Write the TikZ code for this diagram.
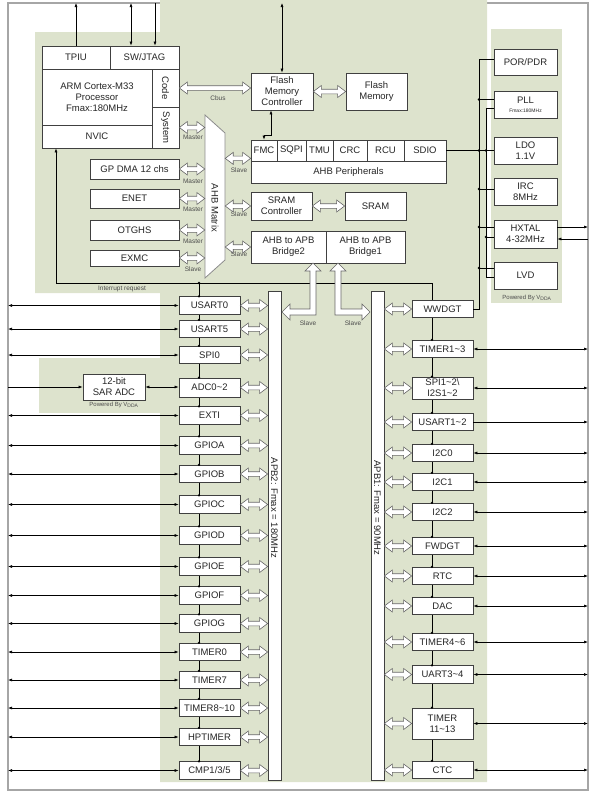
\documentclass[tikz,border=0pt]{standalone}
\usepackage{fontspec}
\setmainfont{Liberation Sans}
\usetikzlibrary{arrows.meta, calc}

\definecolor{domaingreen}{RGB}{221,227,205}
\definecolor{boxline}{RGB}{64,64,64}

\begin{document}
\begin{tikzpicture}[
        x=1pt, y=-1pt,
        block/.style={rectangle, draw=boxline, fill=white, line width=0.7pt, inner sep=0pt, align=center, text=black!85, font=\fontsize{9.5}{11}\selectfont},
        periph/.style={block, minimum width=61, minimum height=17.5},
        pwrbox/.style={block, minimum width=63, minimum height=27},
        vtext/.style={inner sep=0pt, rotate=-90, text=black!85, font=\fontsize{9.5}{11}\selectfont},
        smalltag/.style={inner sep=0pt, text=black!70, font=\fontsize{6.5}{7}\selectfont},
        wire/.style={line width=0.6pt},
        io/.style={wire, {Latex[length=4pt,width=3pt]}-{Latex[length=4pt,width=3pt]}},
        outarrow/.style={wire, -{Latex[length=4pt,width=3pt]}},
        hollowline/.style={draw=black!60, fill=white, line width=0.6pt},
        hollow/.style={hollowline, to path={let \p1=(\tikztostart), \p2=(\tikztotarget) in (\x1,\y1) -- (\x1+8pt,\y1+6pt) -- (\x1+8pt,\y1+2.3pt) -- (\x2-8pt,\y1+2.3pt) -- (\x2-8pt,\y1+6pt) -- (\x2,\y1) -- (\x2-8pt,\y1-6pt) -- (\x2-8pt,\y1-2.3pt) -- (\x1+8pt,\y1-2.3pt) -- (\x1+8pt,\y1-6pt) -- cycle}},
    ]
        \useasboundingbox (0,0) rectangle (594,796);

        % frame and power domains
        \draw[black!35, line width=1.3pt] (8,3) rectangle (588,790);
        \fill[domaingreen] (35,32) -- (160,32) -- (160,0) -- (487,0) -- (487,782) -- (160,782) -- (160,293) -- (35,293) -- cycle;
        \fill[domaingreen] (39,358) rectangle (160,413);
        \fill[domaingreen] (491,29) rectangle (562,303);

        \coordinate (edge_l) at (8,0);
        \coordinate (edge_r) at (588,0);
        \coordinate (edge_t) at (0,3);
        \coordinate (irq_l) at (56,283);
        \coordinate (irq_m) at (199,283);
        \coordinate (irq_r) at (432,283);
        \coordinate (apb2_end) at (199,762);
        \coordinate (apb1_end) at (432,761);
        \coordinate (pwr_a) at (479,0);
        \coordinate (pwr_b) at (486,0);

        \draw[wire] (irq_m) -- (apb2_end);
        \draw[wire] (irq_r) -- (apb1_end);

        % core
        \node[block, minimum width=68, minimum height=23] (tpiu) at (76,57.5) {TPIU};
        \node[block, minimum width=69, minimum height=23] (swjtag) at (144.5,57.5) {SW/JTAG};
        \node[block, minimum width=110, minimum height=56] (cortex) at (97,97) {ARM Cortex-M33\\Processor\\Fmax:180MHz};
        \node[block, minimum width=110, minimum height=23] (nvic) at (97,136.5) {NVIC};
        \node[block, rotate=-90, minimum width=38, minimum height=27] (code) at (165.5,88) {Code};
        \node[block, rotate=-90, minimum width=41, minimum height=27] (system) at (165.5,127.5) {System};

        \node[block, minimum width=62, minimum height=37] (flashctrl) at (282,91.5) {Flash\\Memory\\Controller};
        \node[block, minimum width=61, minimum height=37] (flash) at (376.5,91.5) {Flash\\Memory};

        \node[block, minimum width=89, minimum height=20] (gpdma) at (134.5,169) {GP DMA 12 chs};
        \node[block, minimum width=89, minimum height=19] (enet) at (134.5,198.5) {ENET};
        \node[block, minimum width=89, minimum height=20] (otghs) at (134.5,230) {OTGHS};
        \node[block, minimum width=89, minimum height=16] (exmc) at (134.5,258) {EXMC};

        \draw[draw=black!45, fill=white, line width=0.8pt] (205,115) -- (225,133) -- (225,260) -- (205,278) -- cycle;
        \node[vtext, minimum height=20] (mtx) at (215,208) {AHB Matrix};

        \node[block, minimum width=26, minimum height=21] (fmc) at (264,150.5) {FMC};
        \node[block, minimum width=29, minimum height=21] (sqpi) at (291.5,150.5) {SQPI};
        \node[block, minimum width=27, minimum height=21] (tmu) at (319.5,150.5) {TMU};
        \node[block, minimum width=34, minimum height=21] (crc) at (350,150.5) {CRC};
        \node[block, minimum width=37, minimum height=21] (rcu) at (385.5,150.5) {RCU};
        \node[block, minimum width=42, minimum height=21] (sdio) at (425,150.5) {SDIO};
        \node[block, minimum width=195, minimum height=22] (ahbp) at (348.5,172) {AHB Peripherals};

        \node[block, minimum width=61, minimum height=28] (sramctrl) at (281.5,206) {SRAM\\Controller};
        \node[block, minimum width=61, minimum height=28] (sram) at (375.5,206) {SRAM};
        \node[block, minimum width=75, minimum height=32] (bridge2) at (288.5,247) {AHB to APB\\Bridge2};
        \node[block, minimum width=79, minimum height=32] (bridge1) at (365.5,247) {AHB to APB\\Bridge1};

        % power
        \node[pwrbox, minimum height=26] (por) at (525.5,62) {POR/PDR};
        \node[pwrbox] (pll) at (525.5,104.5) {PLL\\[-2pt]{\fontsize{5}{6}\selectfont Fmax:180MHz}};
        \node[pwrbox] (ldo) at (525.5,150.5) {LDO\\1.1V};
        \node[pwrbox] (irc) at (525.5,191.5) {IRC\\8MHz};
        \node[pwrbox, minimum height=28] (hxtal) at (525.5,234) {HXTAL\\4-32MHz};
        \node[pwrbox] (lvd) at (525.5,275.5) {LVD};

        % APB buses
        \node[block, minimum width=13, minimum height=489] (apb2) at (274.5,535.5) {};
        \node[vtext] (apb2_txt) at (274.5,508) {APB2: Fmax = 180MHz};
        \node[block, minimum width=13, minimum height=489] (apb1) at (377.5,535.5) {};
        \node[vtext] (apb1_txt) at (377.5,508) {APB1: Fmax = 90MHz};

        \node[block, minimum width=62, minimum height=26] (sar) at (114,387) {12-bit\\SAR ADC};

        \node[periph] (usart0) at (209.5,305.5) {USART0};
        \node[periph] (usart5) at (209.5,329) {USART5};
        \node[periph] (spi0) at (209.5,355) {SPI0};
        \node[periph, minimum height=19] (adc) at (209.5,387.5) {ADC0\textasciitilde 2};
        \node[periph] (exti) at (209.5,415.5) {EXTI};
        \node[periph] (gpioa) at (209.5,445.5) {GPIOA};
        \node[periph] (gpiob) at (209.5,474) {GPIOB};
        \node[periph] (gpioc) at (209.5,504.5) {GPIOC};
        \node[periph] (gpiod) at (209.5,535.5) {GPIOD};
        \node[periph] (gpioe) at (209.5,566.5) {GPIOE};
        \node[periph] (gpiof) at (209.5,595.5) {GPIOF};
        \node[periph] (gpiog) at (209.5,623.5) {GPIOG};
        \node[periph] (timer0) at (209.5,652) {TIMER0};
        \node[periph] (timer7) at (209.5,680) {TIMER7};
        \node[periph] (timer8) at (209.5,708) {TIMER8\textasciitilde 10};
        \node[periph] (hptimer) at (209.5,737) {HPTIMER};
        \node[periph] (cmp) at (209.5,770.5) {CMP1/3/5};

        \node[periph] (wwdgt) at (442.5,309) {WWDGT};
        \node[periph] (timer1) at (442.5,349) {TIMER1\textasciitilde 3};
        \node[periph, minimum height=22] (spi1) at (442.5,388) {SPI1\textasciitilde 2\textbackslash\\I2S1\textasciitilde 2};
        \node[periph] (usart1) at (442.5,422) {USART1\textasciitilde 2};
        \node[periph] (i2c0) at (442.5,453) {I2C0};
        \node[periph] (i2c1) at (442.5,482) {I2C1};
        \node[periph] (i2c2) at (442.5,512) {I2C2};
        \node[periph] (fwdgt) at (442.5,546) {FWDGT};
        \node[periph] (rtc) at (442.5,576) {RTC};
        \node[periph] (dac) at (442.5,606) {DAC};
        \node[periph] (timer4) at (442.5,642) {TIMER4\textasciitilde 6};
        \node[periph] (uart3) at (442.5,674.5) {UART3\textasciitilde 4};
        \node[periph, minimum height=31] (timer11) at (442.5,723.5) {TIMER\\11\textasciitilde 13};
        \node[periph] (ctc) at (442.5,770) {CTC};

        % labels
        \node[smalltag] (cbus_lbl) at (218,98) {Cbus};
        \node[smalltag] (m_sys) at (193,137) {Master};
        \node[smalltag] (m_dma) at (193,181) {Master};
        \node[smalltag] (m_enet) at (193,209) {Master};
        \node[smalltag] (m_otg) at (193,241) {Master};
        \node[smalltag] (s_exmc) at (193,269) {Slave};
        \node[smalltag] (s_ahbp) at (239,170) {Slave};
        \node[smalltag] (s_sram) at (239,214) {Slave};
        \node[smalltag] (s_bridge) at (239,254) {Slave};
        \node[smalltag] (s_apb2) at (308,323) {Slave};
        \node[smalltag] (s_apb1) at (353,323) {Slave};
        \node[smalltag] (irq_lbl) at (122,289) {Interrupt request};
        \node[smalltag, font=\fontsize{6}{7}\selectfont] (vdda_adc) at (114,405) {Powered By V\textsubscript{DDA}};
        \node[smalltag, font=\fontsize{6}{7}\selectfont] (vdda_pwr) at (527,298) {Powered By V\textsubscript{DDA}};

        % top pins
        \draw[outarrow] (tpiu.north) -- (tpiu.north |- edge_t);
        \draw[io] ($(swjtag.north)+(-13.5,0)$) -- ($(swjtag.north |- edge_t)+(-13.5,0)$);
        \draw[outarrow] ($(swjtag.north |- edge_t)+(10.5,0)$) -- ($(swjtag.north)+(10.5,0)$);
        \draw[io] (flashctrl.north) -- (flashctrl.north |- edge_t);
        \draw[io] ($(flashctrl.south)+(-11,0)$) |- ($(fmc.north)+(0,-4)$) -- (fmc.north);

        % AHB
        \draw[hollow] (code.north) to (code.north -| flashctrl.west);
        \draw[hollow] (flashctrl.east) to (flash.west);
        \draw[hollow] (sramctrl.east) to (sram.west);
        \draw[hollow] (system.north) to (system.north -| mtx.south);
        \draw[hollow] (gpdma.east) to (gpdma.east -| mtx.south);
        \draw[hollow] (enet.east) to (enet.east -| mtx.south);
        \draw[hollow] (otghs.east) to (otghs.east -| mtx.south);
        \draw[hollow] (exmc.east) to (exmc.east -| mtx.south);
        \draw[hollow] ($(mtx.north |- fmc.south)+(0,-3)$) to ($(fmc.south west)+(0,-3)$);
        \draw[hollow] (mtx.north |- sramctrl.west) to (sramctrl.west);
        \draw[hollow] (mtx.north |- bridge2.west) to (bridge2.west);

        % interrupt request
        \draw[outarrow] (irq_r) -- (irq_l) -- (irq_l |- nvic.south);
        \fill (irq_m) circle (1.3pt);

        % bridges to APB
        \draw[hollowline] (313,263) -- (321,271) -- (316,271) -- (316,315) -- (290,315) -- (290,320) -- (282,312) -- (290,304) -- (290,309) -- (310,309) -- (310,271) -- (305,271) -- cycle;
        \draw[hollowline] (338,263) -- (346,271) -- (341,271) -- (341,309) -- (362,309) -- (362,304) -- (370,312) -- (362,320) -- (362,315) -- (335,315) -- (335,271) -- (330,271) -- cycle;

        % power wiring
        \draw[wire] ($(por.west)+(0,-3)$) -| (pwr_a |- wwdgt.east) -- (wwdgt.east);
        \draw[wire] ($(pll.west)+(0,-5)$) -- ($(pll.west -| pwr_a)+(0,-5)$);
        \fill ($(pll.west -| pwr_a)+(0,-5)$) circle (1.3pt);
        \draw[wire] ($(pll.west)+(0,4)$) -- ($(pll.west -| pwr_b)+(0,4)$) -- ($(lvd.west -| pwr_b)+(0,1.5)$) -- ($(lvd.west)+(0,1.5)$);
        \draw[wire] (sdio.east) -- (sdio.east -| ldo.west);
        \fill (sdio.east -| pwr_a) circle (1.3pt);
        \fill (sdio.east -| pwr_b) circle (1.3pt);
        \draw[wire] ($(irc.west)+(0,-2.5)$) -- ($(irc.west -| pwr_a)+(0,-2.5)$);
        \fill ($(irc.west -| pwr_a)+(0,-2.5)$) circle (1.3pt);
        \draw[wire] ($(hxtal.west)+(0,-7)$) -- ($(hxtal.west -| pwr_a)+(0,-7)$);
        \fill ($(hxtal.west -| pwr_a)+(0,-7)$) circle (1.3pt);
        \draw[wire] ($(hxtal.west)+(0,3)$) -- ($(hxtal.west -| pwr_b)+(0,3)$);
        \fill ($(hxtal.west -| pwr_b)+(0,3)$) circle (1.3pt);
        \draw[wire] ($(lvd.west)+(0,-7.5)$) -- ($(lvd.west -| pwr_a)+(0,-7.5)$);
        \fill ($(lvd.west -| pwr_a)+(0,-7.5)$) circle (1.3pt);
        \draw[outarrow] ($(hxtal.east)+(0,-7)$) -- ($(hxtal.east -| edge_r)+(0,-7)$);
        \draw[outarrow] ($(hxtal.east -| edge_r)+(0,5)$) -- ($(hxtal.east)+(0,5)$);

        % APB2 side
        \draw[outarrow] (sar.west -| edge_l) -- (sar.west);
        \draw[io] (sar.east) -- (sar.east -| adc.west);
        \draw[io] (usart0.west -| edge_l) -- (usart0.west);
        \draw[io] (usart5.west -| edge_l) -- (usart5.west);
        \draw[io] (spi0.west -| edge_l) -- (spi0.west);
        \draw[io] (exti.west -| edge_l) -- (exti.west);
        \draw[io] (gpioa.west -| edge_l) -- (gpioa.west);
        \draw[io] (gpiob.west -| edge_l) -- (gpiob.west);
        \draw[io] (gpioc.west -| edge_l) -- (gpioc.west);
        \draw[io] (gpiod.west -| edge_l) -- (gpiod.west);
        \draw[io] (gpioe.west -| edge_l) -- (gpioe.west);
        \draw[io] (gpiof.west -| edge_l) -- (gpiof.west);
        \draw[io] (gpiog.west -| edge_l) -- (gpiog.west);
        \draw[io] (timer0.west -| edge_l) -- (timer0.west);
        \draw[io] (timer7.west -| edge_l) -- (timer7.west);
        \draw[io] (timer8.west -| edge_l) -- (timer8.west);
        \draw[io] (hptimer.west -| edge_l) -- (hptimer.west);
        \draw[io] (cmp.west -| edge_l) -- (cmp.west);

        \draw[hollow] (usart0.east) to (usart0.east -| apb2.west);
        \draw[hollow] (usart5.east) to (usart5.east -| apb2.west);
        \draw[hollow] (spi0.east) to (spi0.east -| apb2.west);
        \draw[hollow] (adc.east) to (adc.east -| apb2.west);
        \draw[hollow] (exti.east) to (exti.east -| apb2.west);
        \draw[hollow] (gpioa.east) to (gpioa.east -| apb2.west);
        \draw[hollow] (gpiob.east) to (gpiob.east -| apb2.west);
        \draw[hollow] (gpioc.east) to (gpioc.east -| apb2.west);
        \draw[hollow] (gpiod.east) to (gpiod.east -| apb2.west);
        \draw[hollow] (gpioe.east) to (gpioe.east -| apb2.west);
        \draw[hollow] (gpiof.east) to (gpiof.east -| apb2.west);
        \draw[hollow] (gpiog.east) to (gpiog.east -| apb2.west);
        \draw[hollow] (timer0.east) to (timer0.east -| apb2.west);
        \draw[hollow] (timer7.east) to (timer7.east -| apb2.west);
        \draw[hollow] (timer8.east) to (timer8.east -| apb2.west);
        \draw[hollow] (hptimer.east) to (hptimer.east -| apb2.west);
        \draw[hollow] (cmp.east) to (cmp.east -| apb2.west);

        \fill (usart0.north -| irq_m) circle (1.3pt);
        \fill (usart5.north -| irq_m) circle (1.3pt);
        \fill (spi0.north -| irq_m) circle (1.3pt);
        \fill (adc.north -| irq_m) circle (1.3pt);
        \fill (exti.north -| irq_m) circle (1.3pt);
        \fill (gpioa.north -| irq_m) circle (1.3pt);
        \fill (gpiob.north -| irq_m) circle (1.3pt);
        \fill (gpioc.north -| irq_m) circle (1.3pt);
        \fill (gpiod.north -| irq_m) circle (1.3pt);
        \fill (gpioe.north -| irq_m) circle (1.3pt);
        \fill (gpiof.north -| irq_m) circle (1.3pt);
        \fill (gpiog.north -| irq_m) circle (1.3pt);
        \fill (timer0.north -| irq_m) circle (1.3pt);
        \fill (timer7.north -| irq_m) circle (1.3pt);
        \fill (timer8.north -| irq_m) circle (1.3pt);
        \fill (hptimer.north -| irq_m) circle (1.3pt);
        \fill (cmp.north -| irq_m) circle (1.3pt);

        % APB1 side
        \draw[io] (timer1.east) -- (timer1.east -| edge_r);
        \draw[io] (spi1.east) -- (spi1.east -| edge_r);
        \draw[outarrow] (usart1.east) -- (usart1.east -| edge_r);
        \draw[io] (i2c0.east) -- (i2c0.east -| edge_r);
        \draw[io] (i2c1.east) -- (i2c1.east -| edge_r);
        \draw[io] (i2c2.east) -- (i2c2.east -| edge_r);
        \draw[io] (fwdgt.east) -- (fwdgt.east -| edge_r);
        \draw[io] (rtc.east) -- (rtc.east -| edge_r);
        \draw[io] (dac.east) -- (dac.east -| edge_r);
        \draw[io] (timer4.east) -- (timer4.east -| edge_r);
        \draw[io] (uart3.east) -- (uart3.east -| edge_r);
        \draw[io] (timer11.east) -- (timer11.east -| edge_r);
        \draw[io] (ctc.east) -- (ctc.east -| edge_r);

        \draw[hollow] (wwdgt.west -| apb1.east) to (wwdgt.west);
        \draw[hollow] (timer1.west -| apb1.east) to (timer1.west);
        \draw[hollow] (spi1.west -| apb1.east) to (spi1.west);
        \draw[hollow] (usart1.west -| apb1.east) to (usart1.west);
        \draw[hollow] (i2c0.west -| apb1.east) to (i2c0.west);
        \draw[hollow] (i2c1.west -| apb1.east) to (i2c1.west);
        \draw[hollow] (i2c2.west -| apb1.east) to (i2c2.west);
        \draw[hollow] (fwdgt.west -| apb1.east) to (fwdgt.west);
        \draw[hollow] (rtc.west -| apb1.east) to (rtc.west);
        \draw[hollow] (dac.west -| apb1.east) to (dac.west);
        \draw[hollow] (timer4.west -| apb1.east) to (timer4.west);
        \draw[hollow] (uart3.west -| apb1.east) to (uart3.west);
        \draw[hollow] (timer11.west -| apb1.east) to (timer11.west);
        \draw[hollow] (ctc.west -| apb1.east) to (ctc.west);

        \fill (timer1.north -| irq_r) circle (1.3pt);
        \fill (spi1.north -| irq_r) circle (1.3pt);
        \fill (usart1.north -| irq_r) circle (1.3pt);
        \fill (i2c0.north -| irq_r) circle (1.3pt);
        \fill (i2c1.north -| irq_r) circle (1.3pt);
        \fill (i2c2.north -| irq_r) circle (1.3pt);
        \fill (fwdgt.north -| irq_r) circle (1.3pt);
        \fill (rtc.north -| irq_r) circle (1.3pt);
        \fill (dac.north -| irq_r) circle (1.3pt);
        \fill (timer4.north -| irq_r) circle (1.3pt);
        \fill (uart3.north -| irq_r) circle (1.3pt);
        \fill (timer11.north -| irq_r) circle (1.3pt);
        \fill (ctc.north -| irq_r) circle (1.3pt);
    \end{tikzpicture}
\end{document}
